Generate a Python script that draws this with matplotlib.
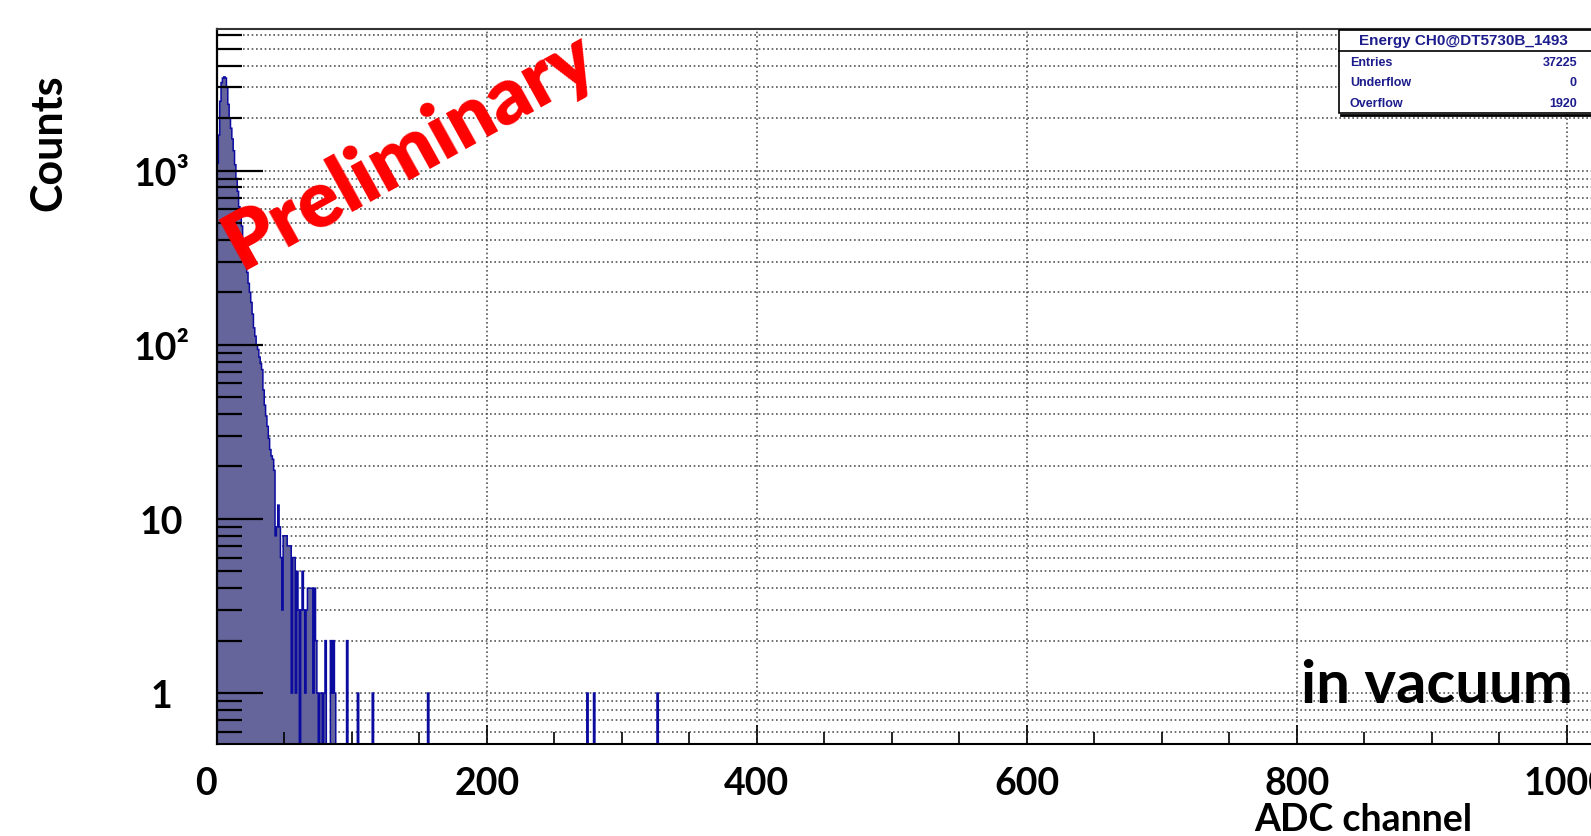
import numpy as np
import matplotlib
matplotlib.use('Agg')
import matplotlib.pyplot as plt
from matplotlib.patches import Rectangle
from matplotlib.lines import Line2D
from matplotlib.ticker import LogLocator, NullFormatter, MultipleLocator

# Counts per ADC channel (channels 0..89)
peak_counts = [1100, 1600, 2500, 3200, 3400, 3450, 3400, 3000, 2400, 2000,
               1750, 1520, 1300, 1080, 900, 760, 620, 540, 480, 400,
               340, 300, 260, 225, 200, 175, 150, 125, 112, 100,
               94, 85, 78, 72, 55, 45, 39, 34, 29, 25,
               23, 22, 19, 8, 9, 12, 9, 6, 3, 8,
               8, 8, 7, 7, 7, 1, 6, 6, 1, 5,
               3, 0, 3, 5, 3, 1, 3, 4, 4, 4,
               4, 1, 4, 2, 1, 0, 1, 1, 0, 1,
               2, 0, 0, 0, 2, 1, 2, 1, 0, 0]
# isolated entries further out
tail_channels = [96, 104, 115, 156, 274, 279, 326]
tail_counts = [2, 1, 1, 1, 1, 1, 1]
n_channels = 1024

x_ticks = [0, 200, 400, 600, 800, 1000]
x_tick_labels = ['0', '200', '400', '600', '800', '1000']
y_ticks = [1, 10, 100, 1000]
y_tick_labels = ['1', '10', '10²', '10³']

stats_title = 'Energy CH0@DT5730B_1493'
stats_names = ['Entries', 'Underflow', 'Overflow']
stats_values = ['37225', '0', '1920']

# Build histogram
counts = np.zeros(n_channels)
counts[:len(peak_counts)] = peak_counts
counts[tail_channels] = tail_counts
edges = np.arange(n_channels + 1)

W, H = 1591, 837
fig = plt.figure(figsize=(W / 100, H / 100), dpi=100)


def fx(px):
    return px / W


def fy(py):
    return 1 - py / H


rect = [fx(217), fy(745), (1599 - 217) / W, (745 - 30) / H]

# Background axes only carries the dotted grid, so it sits under the fill
ax_bg = fig.add_axes(rect)
ax = fig.add_axes(rect, sharex=ax_bg, sharey=ax_bg)
ax.patch.set_visible(False)

ax_bg.set_yscale('log')
ax_bg.set_xlim(0, n_channels)
ax_bg.set_ylim(0.51, 6500)

fill_color = '#65659b'
line_color = '#0b0ba0'
ax.stairs(counts, edges, fill=True, baseline=0.1, color=fill_color, lw=0)
ax.stairs(counts, edges, baseline=None, color=line_color, lw=1.1)

# Ticks
ax.set_xticks(x_ticks, x_tick_labels, fontsize=27, fontweight='bold', fontfamily='Lato')
ax.xaxis.set_minor_locator(MultipleLocator(50))
ax.set_yticks(y_ticks, y_tick_labels, fontsize=27, fontweight='bold', fontfamily='Lato',
              ha='center')
ax.yaxis.set_minor_locator(LogLocator(base=10, subs=range(2, 10)))
ax.yaxis.set_minor_formatter(NullFormatter())
ax.get_xticklabels()[0].set_ha('right')

ax.tick_params(axis='x', which='major', direction='in', length=14, width=1.2, pad=16)
ax.tick_params(axis='x', which='minor', direction='in', length=8.5, width=1.2)
ax.tick_params(axis='y', which='major', direction='in', length=33, width=1.6, pad=40)
ax.tick_params(axis='y', which='minor', direction='in', length=18, width=1.6)

# Dotted grid
grid_kw = dict(color='#555555', linestyle=(0, (1, 1.6)), linewidth=1.2)
ax_bg.grid(True, which='major', axis='x', **grid_kw)
ax_bg.grid(True, which='both', axis='y', **grid_kw)
ax_bg.tick_params(which='both', length=0, labelbottom=False, labelleft=False)
for s in ax_bg.spines.values():
    s.set_visible(False)

ax.spines['right'].set_visible(False)
ax.spines['left'].set_linewidth(1.6)
ax.spines['bottom'].set_linewidth(1.5)
ax.spines['top'].set_linewidth(1.5)
ax.spines['top'].set_color('#333333')

# Annotations
fig.text(fx(48), fy(143), 'Counts', rotation=90, ha='center', va='center',
         fontsize=31, fontweight='bold', fontfamily='Lato')
fig.text(fx(1363), fy(820), 'ADC channel', ha='center', va='center',
         fontsize=27, fontweight='bold', fontfamily='Lato')
fig.text(fx(1437), fy(686), 'in vacuum', ha='center', va='center',
         fontsize=43, fontweight='bold', fontfamily='Lato')
fig.text(fx(410), fy(150), 'Preliminary', ha='center', va='center', rotation=29,
         rotation_mode='anchor', color='#ff0000', fontsize=57, fontweight='heavy',
         fontfamily='Lato', zorder=10)

# Stats box
box = Rectangle((fx(1339), fy(114)), fx(1600) - fx(1339), (114 - 31) / H,
                transform=fig.transFigure, facecolor='white', edgecolor='black',
                lw=1.2, zorder=5)
fig.add_artist(box)
fig.add_artist(Line2D([fx(1339), fx(1600)], [fy(52), fy(52)], transform=fig.transFigure,
                      color='black', lw=1.2, zorder=6))
fig.add_artist(Line2D([fx(1341), fx(1600)], [fy(116), fy(116)], transform=fig.transFigure,
                      color='black', lw=2, zorder=6))
stats_color = '#1c1c8c'
fig.text(fx(1463), fy(41), stats_title, ha='center', va='center', fontsize=11,
         color=stats_color, fontfamily='Liberation Sans', fontweight='bold', zorder=7)
for i, (name, val) in enumerate(zip(stats_names, stats_values)):
    y = fy(63 + 20.5 * i)
    fig.text(fx(1350), y, name, ha='left', va='center', fontsize=9, color=stats_color,
             fontfamily='Liberation Sans', fontweight='bold', zorder=7)
    fig.text(fx(1577), y, val, ha='right', va='center', fontsize=9, color=stats_color,
             fontfamily='Liberation Sans', fontweight='bold', zorder=7)

fig.savefig('out.png', dpi=100)
